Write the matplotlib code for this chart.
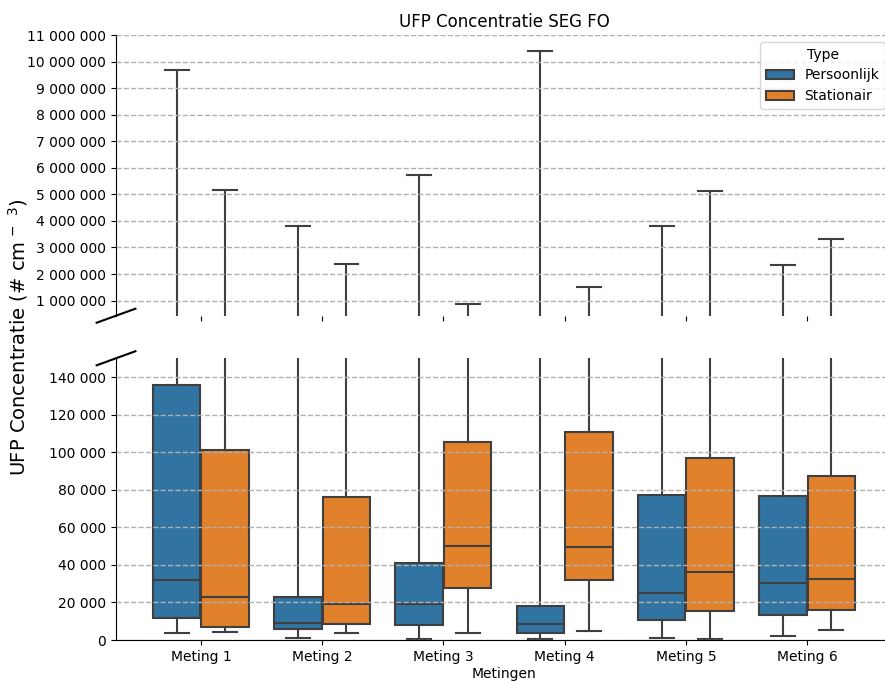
import matplotlib
matplotlib.use("Agg")
import matplotlib.pyplot as plt
from matplotlib.patches import Patch
from matplotlib.ticker import FuncFormatter, MultipleLocator

# Measurement sessions and measurement types
categories = ["Meting 1", "Meting 2", "Meting 3", "Meting 4", "Meting 5", "Meting 6"]
types = ["Persoonlijk", "Stationair"]

# Box statistics per session (# cm^-3)
persoonlijk_whislo = [3900, 900, 700, 700, 1100, 2300]
persoonlijk_q1 = [11900, 5900, 8200, 3500, 10500, 13500]
persoonlijk_med = [31900, 9000, 19000, 8500, 25000, 30300]
persoonlijk_q3 = [135700, 22700, 41200, 18100, 77200, 76600]
persoonlijk_whishi = [9680000, 3810000, 5740000, 10400000, 3810000, 2340000]

stationair_whislo = [4100, 3900, 3900, 4800, 500, 5100]
stationair_q1 = [7100, 8700, 27900, 31800, 15400, 16100]
stationair_med = [22900, 19300, 49800, 49500, 36200, 32500]
stationair_q3 = [101100, 76100, 105200, 110900, 96700, 87300]
stationair_whishi = [5180000, 2370000, 860000, 1500000, 5110000, 3300000]

colors = ["#3274a1", "#e1812c"]
line_gray = "#3f3f3f"


def make_stats(lo, q1, med, q3, hi):
    return [dict(whislo=a, q1=b, med=c, q3=d, whishi=e, fliers=[])
            for a, b, c, d, e in zip(lo, q1, med, q3, hi)]


stats = [
    make_stats(persoonlijk_whislo, persoonlijk_q1, persoonlijk_med,
               persoonlijk_q3, persoonlijk_whishi),
    make_stats(stationair_whislo, stationair_q1, stationair_med,
               stationair_q3, stationair_whishi),
]

fig = plt.figure(figsize=(8.85, 6.81), dpi=100)
left, width = 0.1311, 0.8768
ax_top = fig.add_axes([left, 0.5364, width, 0.4122])
ax_bot = fig.add_axes([left, 0.0602, width, 0.4137])

line_kw = dict(color=line_gray, linewidth=1.5)
offsets = [-0.2, 0.2]

for ax in (ax_top, ax_bot):
    for k in range(len(types)):
        pos = [i + offsets[k] for i in range(len(categories))]
        ax.bxp(stats[k], positions=pos, widths=0.392, patch_artist=True,
               showfliers=False, manage_ticks=False,
               boxprops=dict(facecolor=colors[k], edgecolor=line_gray, linewidth=1.5),
               medianprops=line_kw, whiskerprops=line_kw, capprops=line_kw)
    ax.set_xlim(-0.7, 5.7)
    ax.set_axisbelow(False)
    ax.yaxis.grid(True, linestyle="--", color="#b0b0b0", linewidth=1)
    ax.yaxis.set_major_formatter(FuncFormatter(lambda v, p: f"{v:,.0f}".replace(",", " ")))
    ax.tick_params(labelsize=10)
    ax.spines["top"].set_visible(False)
    ax.spines["right"].set_visible(False)
    ax.set_xticks(range(len(categories)))

# Upper part: the long whiskers
ax_top.set_ylim(430000, 11000000)
ax_top.yaxis.set_major_locator(MultipleLocator(1000000))
ax_top.spines["bottom"].set_visible(False)
ax_top.set_xticklabels([])
ax_top.set_title("UFP Concentratie SEG FO", fontsize=12)

# Lower part: the boxes
ax_bot.set_ylim(0, 150000)
ax_bot.yaxis.set_major_locator(MultipleLocator(20000))
ax_bot.set_xticklabels(categories)
ax_bot.set_xlabel("Metingen", fontsize=10, labelpad=2.5)

# Break markers on the y axis
d = 0.025
ax_top.plot([-d, d], [-d, d], transform=ax_top.transAxes, color="k",
            clip_on=False, linewidth=1.5)
ax_bot.plot([-d, d], [1 - d, 1 + d], transform=ax_bot.transAxes, color="k",
            clip_on=False, linewidth=1.5)

handles = [Patch(facecolor=c, edgecolor=line_gray, linewidth=1.5) for c in colors]
ax_top.legend(handles, types, title="Type", loc="upper right", fontsize=10,
              title_fontsize=10)

fig.text(0.02, 0.505, "UFP Concentratie (# cm$^{\\,-\\enspace3}$)", rotation=90,
         va="center", ha="center", fontsize=14)

fig.savefig("out.png", dpi=100)
